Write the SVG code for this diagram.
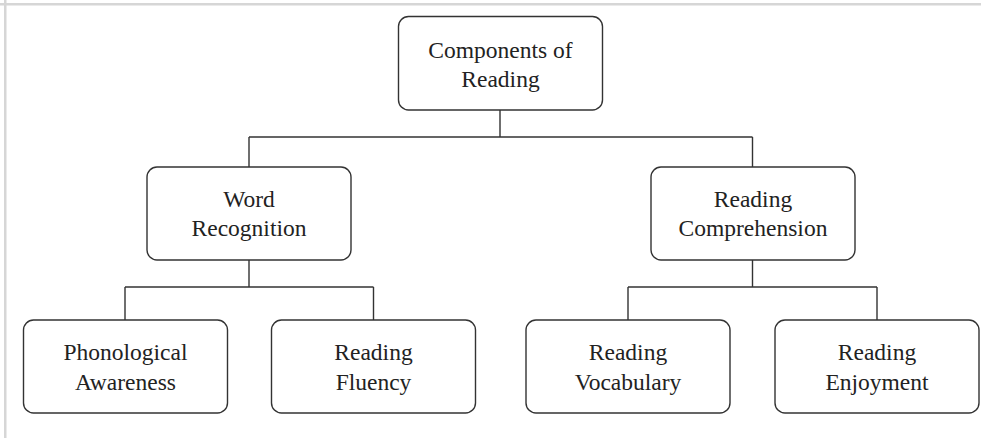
<svg xmlns="http://www.w3.org/2000/svg" width="981" height="438" viewBox="0 0 981 438">
<style>
.box{fill:#fff;stroke:#333;stroke-width:1.4}
.lbl{font-family:"Liberation Serif","Times New Roman",serif;font-size:23.5px;fill:#222;text-anchor:middle}
.con{fill:none;stroke:#333;stroke-width:1.4}
.frame{fill:#d6d6d6}
</style>
<rect width="981" height="438" fill="#fff"/>
<rect class="frame" x="0" y="3" width="981" height="2.5"/>
<rect class="frame" x="4" y="0" width="2.5" height="438"/>
<g id="connectors">
<path class="con" d="M500,110 V137 M249,137 H752.5 M249,137 V167 M752.5,137 V167"/>
<path class="con" d="M249,260 V287 M125,287 H373.5 M125,287 V320 M373.5,287 V320"/>
<path class="con" d="M752.5,260 V287 M628,287 H877 M628,287 V320 M877,287 V320"/>
</g>
<g id="n-components">
<rect class="box" x="398.5" y="16.5" width="204" height="93.5" rx="10"/>
<text class="lbl" x="500.5" y="58">Components of</text>
<text class="lbl" x="500.5" y="87">Reading</text>
</g>
<g id="n-word">
<rect class="box" x="147" y="167" width="204" height="93" rx="10"/>
<text class="lbl" x="249" y="207">Word</text>
<text class="lbl" x="249" y="236">Recognition</text>
</g>
<g id="n-comprehension">
<rect class="box" x="651" y="167" width="204" height="93" rx="10"/>
<text class="lbl" x="753" y="207">Reading</text>
<text class="lbl" x="753" y="236">Comprehension</text>
</g>
<g id="n-phonological">
<rect class="box" x="23.5" y="320" width="204" height="93" rx="10"/>
<text class="lbl" x="125.5" y="360">Phonological</text>
<text class="lbl" x="125.5" y="390">Awareness</text>
</g>
<g id="n-fluency">
<rect class="box" x="271.5" y="320" width="204" height="93" rx="10"/>
<text class="lbl" x="373.5" y="360">Reading</text>
<text class="lbl" x="373.5" y="390">Fluency</text>
</g>
<g id="n-vocabulary">
<rect class="box" x="526" y="320" width="204" height="93" rx="10"/>
<text class="lbl" x="628" y="360">Reading</text>
<text class="lbl" x="628" y="390">Vocabulary</text>
</g>
<g id="n-enjoyment">
<rect class="box" x="775" y="320" width="204" height="93" rx="10"/>
<text class="lbl" x="877" y="360">Reading</text>
<text class="lbl" x="877" y="390">Enjoyment</text>
</g>
</svg>
